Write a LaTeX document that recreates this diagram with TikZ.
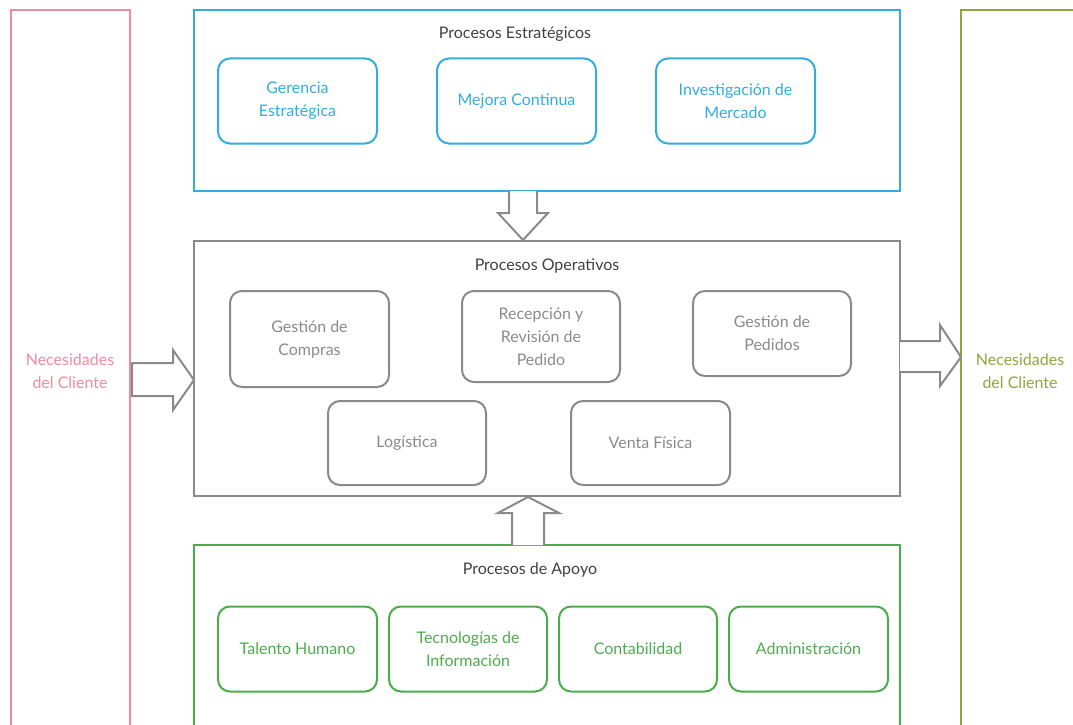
\documentclass[tikz,border=0pt]{standalone}
\usepackage{fontspec}
\setmainfont{Lato}
\definecolor{cpink}{RGB}{240,138,160}
\definecolor{colive}{RGB}{143,166,58}
\definecolor{cblue}{RGB}{52,172,222}
\definecolor{cgray}{RGB}{138,138,138}
\definecolor{cgreen}{RGB}{76,172,76}
\definecolor{ctitle}{RGB}{64,64,64}
\tikzset{
  frame/.style={draw, line width=2pt},
  proc/.style={draw, line width=2pt, rounded corners=12pt, align=center,
    font=\fontsize{16}{23}\selectfont},
  title/.style={font=\fontsize{16}{19}\selectfont, text=ctitle},
  blockarrow/.style={draw=cgray, line width=2pt, fill=white, line join=miter},
}
\begin{document}
\begin{tikzpicture}[x=1pt,y=-1pt]
\useasboundingbox (0,0) rectangle (1073,725);
\clip (0,0) rectangle (1073,725);

% customer needs columns
\draw[frame,cpink] (11,745) -- (11,10) -- (130,10) -- (130,745);
\node[proc,draw=none,text=cpink] (needin) at (70,371) {Necesidades\\del Cliente};
\draw[frame,colive] (961,745) -- (961,10) -- (1085,10);
\node[proc,draw=none,text=colive] (needout) at (1020,371) {Necesidades\\del Cliente};

% strategic processes
\draw[frame,cblue] (194,10) rectangle (900,191);
\node[title] (tstrat) at (515,34) {Procesos Estratégicos};
\node[proc,cblue,minimum width=159pt,minimum height=85pt] (s1) at (297.5,101) {Gerencia\\Estratégica};
\node[proc,cblue,minimum width=159pt,minimum height=85pt] (s2) at (516.5,101) {Mejora Continua};
\node[proc,cblue,minimum width=159pt,minimum height=85pt] (s3) at (735.5,101) {Investigación de\\Mercado};

% operative processes
\draw[frame,cgray] (194,241) rectangle (900,496);
\node[title] (toper) at (547,266) {Procesos Operativos};
\node[proc,cgray,minimum width=159pt,minimum height=96pt] (o1) at (309.5,339) {Gestión de\\Compras};
\node[proc,cgray,minimum width=158pt,minimum height=91pt] (o2) at (541,336.5) {Recepción y\\Revisión de\\Pedido};
\node[proc,cgray,minimum width=158pt,minimum height=85pt] (o3) at (772,333.5) {Gestión de\\Pedidos};
\node[proc,cgray,minimum width=158pt,minimum height=84pt] (o4) at (407,443) {Logística};
\node[proc,cgray,minimum width=159pt,minimum height=84pt] (o5) at (650.5,443) {Venta Física};

% support processes
\draw[frame,cgreen] (194,745) -- (194,545) -- (900,545) -- (900,745);
\node[title] (tsup) at (530,570) {Procesos de Apoyo};
\node[proc,cgreen,minimum width=159pt,minimum height=85pt] (a1) at (297.5,649) {Talento Humano};
\node[proc,cgreen,minimum width=158pt,minimum height=85pt] (a2) at (468,649) {Tecnologías de\\Información};
\node[proc,cgreen,minimum width=158pt,minimum height=85pt] (a3) at (638,649) {Contabilidad};
\node[proc,cgreen,minimum width=159pt,minimum height=85pt] (a4) at (808.5,649) {Administración};

% block arrows between the process groups
\draw[blockarrow] (509,191) -- (509,213) -- (498,213) -- (523,240) -- (548,213) -- (537,213) -- (537,191);
\draw[blockarrow] (132,363) -- (173,363) -- (173,350) -- (194,380) -- (173,410) -- (173,396) -- (132,396) -- cycle;
\draw[blockarrow] (900,341) -- (940,341) -- (940,325) -- (961,357) -- (940,386) -- (940,372) -- (900,372);
\draw[blockarrow] (512,545) -- (512,513) -- (498,513) -- (528,497) -- (559,513) -- (544,513) -- (544,545);
\end{tikzpicture}
\end{document}
